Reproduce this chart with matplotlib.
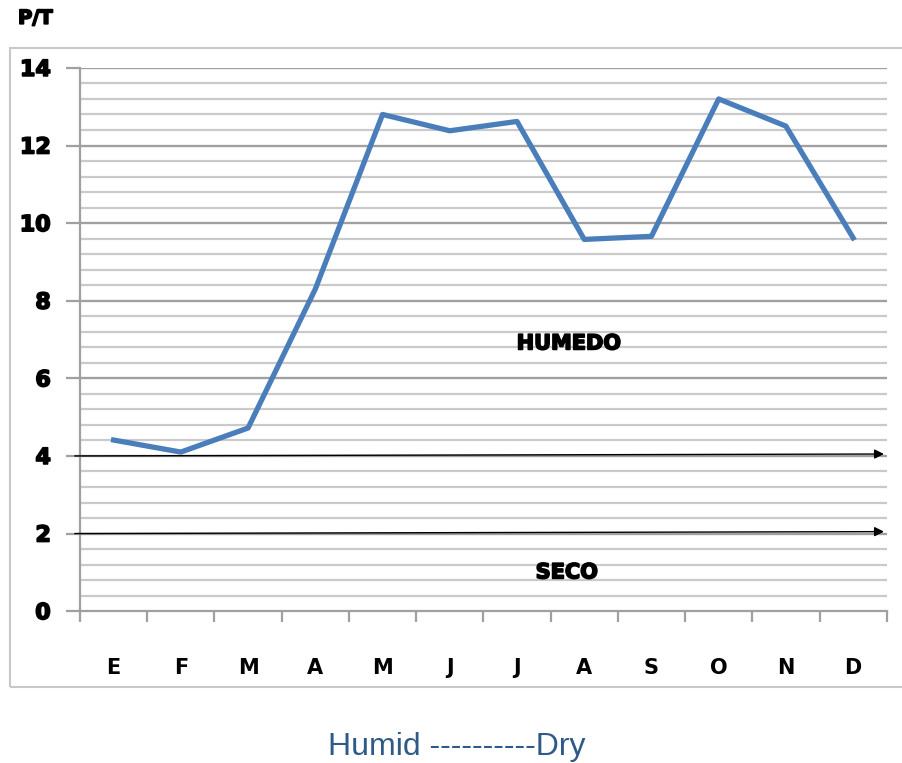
import numpy as np
import matplotlib.pyplot as plt
import matplotlib.patheffects as pe
from matplotlib.patches import Rectangle

months = ['E', 'F', 'M', 'A', 'M', 'J', 'J', 'A', 'S', 'O', 'N', 'D']
pt = [4.41, 4.1, 4.72, 8.3, 12.8, 12.38, 12.62, 9.58, 9.66, 13.2, 12.5, 9.62]
yticks = [0, 2, 4, 6, 8, 10, 12, 14]

heavy = [pe.withStroke(linewidth=1.2, foreground='black')]

fig = plt.figure(figsize=(9.03, 7.63), dpi=100)
# light frame round the chart (runs off the right edge)
fig.patches.append(Rectangle((0.011, 0.099), 1.05, 0.838, transform=fig.transFigure,
                             fill=False, edgecolor='#c8c8c8', linewidth=1.5))
ax = fig.add_axes([0.0886, 0.199, 0.8934, 0.712])

xx = np.arange(len(months))
ax.set_xlim(-0.5, 11.5)
ax.set_ylim(0, 14)

# grid: minor every 0.4, major every 2
for v in np.arange(0.4, 14.01, 0.4):
    ax.axhline(v, color='#cacaca', lw=1.6, zorder=1)
for v in yticks[1:]:
    ax.axhline(v, color='#a0a0a0', lw=1.6, zorder=1)

ax.plot(xx, pt, color='#4a7ebb', lw=3.8, zorder=3)

# arrows at 4 and 2
for v in [4, 2]:
    ax.annotate('', xy=(1.0, v + 0.05), xytext=(-0.01, v), xycoords=('axes fraction', 'data'),
                textcoords=('axes fraction', 'data'),
                arrowprops=dict(arrowstyle='-|>', color='black', lw=1.0, mutation_scale=14),
                zorder=4, annotation_clip=False)

ax.text(6.77, 6.9, 'HUMEDO', fontsize=15, fontweight='heavy', ha='center', va='center',
        zorder=5, path_effects=heavy)
ax.text(6.74, 1.0, 'SECO', fontsize=15, fontweight='heavy', ha='center', va='center',
        zorder=5, path_effects=heavy)

for s in ['top', 'right']:
    ax.spines[s].set_visible(False)
ax.spines['left'].set_color('#a0a0a0')
ax.spines['bottom'].set_color('#a0a0a0')
ax.spines['left'].set_linewidth(1.6)
ax.spines['bottom'].set_linewidth(1.6)

ax.set_yticks(yticks)
ax.set_yticklabels([str(v) for v in yticks], fontsize=16, fontweight='bold')
ax.tick_params(axis='y', length=10, width=1.6, color='#a0a0a0', pad=11)
for t in ax.get_yticklabels():
    t.set_path_effects(heavy)

ax.set_xticks(xx)
ax.set_xticklabels(months, fontsize=15, fontweight='bold')
ax.tick_params(axis='x', length=0, pad=34)
ax.set_xticks(np.arange(-0.5, 12, 1), minor=True)
ax.tick_params(axis='x', which='minor', length=8, width=1.6, color='#a0a0a0')

fig.text(0.02, 0.976, 'P/T', fontsize=14, fontweight='heavy', ha='left', va='center',
         path_effects=heavy)
fig.text(0.506, 0.021, 'Humid ----------Dry', fontsize=23, color='#2e5a88',
         family='Liberation Sans', ha='center', va='center')

plt.savefig('out.png', dpi=100)
